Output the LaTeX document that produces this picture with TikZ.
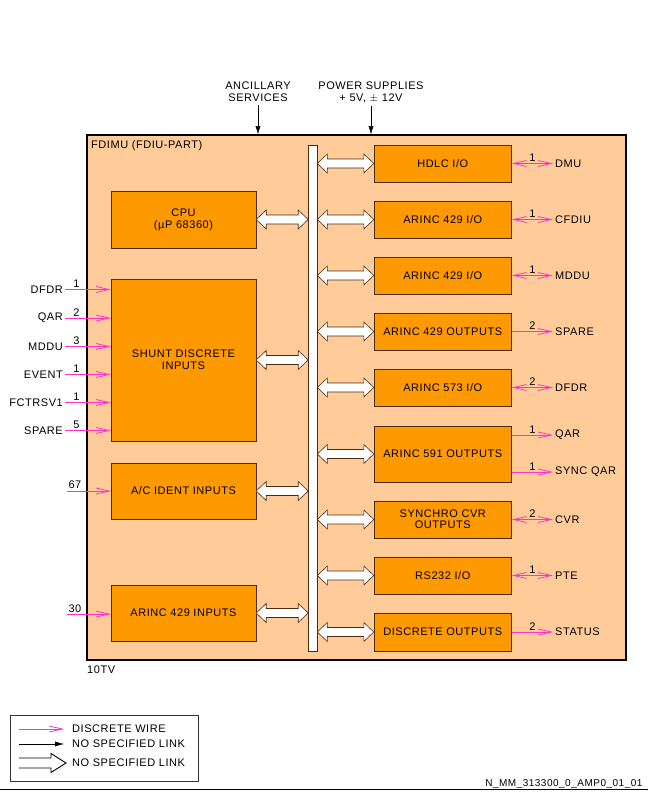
\documentclass[tikz,border=0pt]{standalone}
\usepackage{fontspec}
\setmainfont{Liberation Sans}[LetterSpace=5]
\usepackage{tikz}
\usetikzlibrary{%
	arrows.meta,%
	calc%
}
\definecolor{Peach}{HTML}{FFCC99}
\definecolor{Amber}{HTML}{FF9900}
\definecolor{Edge}{HTML}{4D2B12}
\definecolor{Wire}{HTML}{FF33CC}

\newcommand{\buslink}[2]{%
  \draw [busarrow] let \p1=(#1), \p2=(#2) in
    (\x1,\y1) -- ++(10pt,9.5pt) -- ++(0,-5pt) -- (\x2-10pt,\y1+4.5pt) -- ++(0,5pt)
    -- (\x2,\y1) -- ++(-10pt,-9.5pt) -- ++(0,5pt) -- (\x1+10pt,\y1-4.5pt) -- ++(0,-5pt) -- cycle;}

\begin{document}
\begin{tikzpicture}[x=1pt,y=-1pt,font=\fontsize{11}{12}\selectfont,
  block/.style={draw=Edge,fill=Amber,align=center,inner sep=0pt,minimum width=137.5pt,minimum height=37pt},
  lblock/.style={block,minimum width=145pt},
  wire/.style={draw=Wire,line width=0.8pt,-{Straight Barb[length=13pt,width=6pt]}},
  biwire/.style={wire,{Straight Barb[length=13pt,width=6pt]}-{Straight Barb[length=13pt,width=6pt]}},
  busarrow/.style={draw=Edge,fill=white,line width=0.6pt},
  num/.style={above,inner sep=1.5pt},
  lbl/.style={inner sep=2pt}]
\useasboundingbox (0,0) rectangle (648,792);

% main unit
\node [draw,line width=1.6pt,fill=Peach,minimum width=539pt,minimum height=525pt,inner sep=0pt] (fdimu) at (356.5,397.5) {};
\node [anchor=west,lbl] (title) at (89,146) {FDIMU (FDIU-PART)};
\node [anchor=west,lbl] (tv) at (85,670) {10TV};

\node [align=center] (anc) at (258,92) {ANCILLARY\\SERVICES};
\node [align=center] (pwr) at (371,92) {POWER SUPPLIES\\+ 5V, $\pm$ 12V};
\draw [-{Latex[length=8pt,width=5pt]}] (anc.south) -- (anc.south |- fdimu.north);
\draw [-{Latex[length=8pt,width=5pt]}] (pwr.south) -- (pwr.south |- fdimu.north);

% bus
\node [draw=Edge,fill=white,line width=0.6pt,minimum width=8.5pt,minimum height=506pt,inner sep=0pt] (bus) at (312.75,398) {};

% left blocks
\node [lblock,minimum height=57pt] (cpu) at (183.5,219.5) {CPU\\(µP 68360)};
\node [lblock,minimum height=162pt] (shunt) at (183.5,360) {SHUNT DISCRETE\\INPUTS};
\node [lblock,minimum height=56pt] (acid) at (183.5,491) {A/C IDENT INPUTS};
\node [lblock,minimum height=56pt] (ain) at (183.5,613) {ARINC 429 INPUTS};

% right blocks
\node [block] (hdlc) at (442.75,163.5) {HDLC I/O};
\node [block] (aioa) at (442.75,219.5) {ARINC 429 I/O};
\node [block] (aiob) at (442.75,275.5) {ARINC 429 I/O};
\node [block] (aout) at (442.75,331.5) {ARINC 429 OUTPUTS};
\node [block] (afive) at (442.75,387.5) {ARINC 573 I/O};
\node [block,minimum height=56pt] (anine) at (442.75,454) {ARINC 591 OUTPUTS};
\node [block] (sync) at (442.75,519.5) {SYNCHRO CVR\\[-1pt]OUTPUTS};
\node [block] (rs) at (442.75,575.5) {RS232 I/O};
\node [block,minimum height=38pt] (dout) at (442.75,632) {DISCRETE OUTPUTS};

% bus links
\buslink{cpu.east}{bus.west |- cpu.east}
\buslink{shunt.east}{bus.west |- shunt.east}
\buslink{acid.east}{bus.west |- acid.east}
\buslink{ain.east}{bus.west |- ain.east}
\foreach \b in {hdlc,aioa,aiob,aout,afive,anine,sync,rs,dout}
  \buslink{bus.east |- \b.west}{\b.west};

% discrete inputs
\node [anchor=east,lbl] (idfdr) at (65,289.5) {DFDR};
\node [anchor=east,lbl] (iqar) at (65,318) {QAR};
\node [anchor=east,lbl] (imddu) at (65,346.5) {MDDU};
\node [anchor=east,lbl] (ievent) at (65,374.5) {EVENT};
\node [anchor=east,lbl] (ifct) at (65,402.5) {FCTRSV1};
\node [anchor=east,lbl] (ispare) at (65,430.5) {SPARE};
\foreach \s/\n in {idfdr/1,iqar/2,imddu/3,ievent/1,ifct/1,ispare/5}
  \draw [wire] (\s.east) -- (\s.east -| shunt.west) node [num,pos=.25] {\n};
\coordinate (iid) at (66.5,491);
\coordinate (iain) at (66.5,614);
\draw [wire] (iid) -- (iid -| acid.west) node [num,pos=.19] {67};
\draw [wire] (iain) -- (iain -| ain.west) node [num,pos=.19] {30};

% outputs
\node [anchor=west,lbl] (odmu) at (553,163.5) {DMU};
\node [anchor=west,lbl] (ocfdiu) at (553,219.5) {CFDIU};
\node [anchor=west,lbl] (omddu) at (553,275.5) {MDDU};
\node [anchor=west,lbl] (ospare) at (553,331.5) {SPARE};
\node [anchor=west,lbl] (odfdr) at (553,387.5) {DFDR};
\node [anchor=west,lbl] (oqar) at (553,435) {QAR};
\node [anchor=west,lbl] (osync) at (553,472) {SYNC QAR};
\node [anchor=west,lbl] (ocvr) at (553,519.5) {CVR};
\node [anchor=west,lbl] (opte) at (553,575.5) {PTE};
\node [anchor=west,lbl] (ostat) at (553,632) {STATUS};
\draw [biwire] (hdlc.east) -- (odmu.west) node [num,midway] {1};
\draw [biwire] (aioa.east) -- (ocfdiu.west) node [num,midway] {1};
\draw [biwire] (aiob.east) -- (omddu.west) node [num,midway] {1};
\draw [wire] (aout.east) -- (ospare.west) node [num,midway] {2};
\draw [biwire] (afive.east) -- (odfdr.west) node [num,midway] {2};
\draw [wire] (oqar.west -| anine.east) -- (oqar.west) node [num,midway] {1};
\draw [wire] (osync.west -| anine.east) -- (osync.west) node [num,midway] {1};
\draw [biwire] (sync.east) -- (ocvr.west) node [num,midway] {2};
\draw [biwire] (rs.east) -- (opte.west) node [num,midway] {1};
\draw [wire] (dout.east) -- (ostat.west) node [num,midway] {2};

% legend
\node [draw=black!80,line width=0.8pt,minimum width=188pt,minimum height=66pt,inner sep=0pt] (legend) at (104,748) {};
\node [anchor=west,lbl] (lgwire) at (70,729) {DISCRETE WIRE};
\node [anchor=west,lbl] (lglink) at (70,744) {NO SPECIFIED LINK};
\node [anchor=west,lbl] (lgbus) at (70,763) {NO SPECIFIED LINK};
\coordinate (lwa) at (19,729);
\coordinate (lwb) at (19,744);
\coordinate (lwc) at (19,763);
\draw [wire,shorten >=6pt] (lwa) -- (lgwire.west);
\draw [-{Latex[length=9pt,width=5pt]},shorten >=6pt] (lwb) -- (lglink.west);
\draw [line width=0.9pt] (lwc) ++(0,-5) -- ++(32,0) -- ++(0,-4.5) -- ++(15,9.5) -- ++(-15,9.5) -- ++(0,-4.5) -- ++(-32,0);

% drawing reference
\node [anchor=east,font=\fontsize{10}{11}\selectfont] (ref) at (646,784) {N\_MM\_313300\_0\_AMP0\_01\_01};
\draw [line width=1pt] (0,789.5) -- (648,789.5);
\end{tikzpicture}
\end{document}
